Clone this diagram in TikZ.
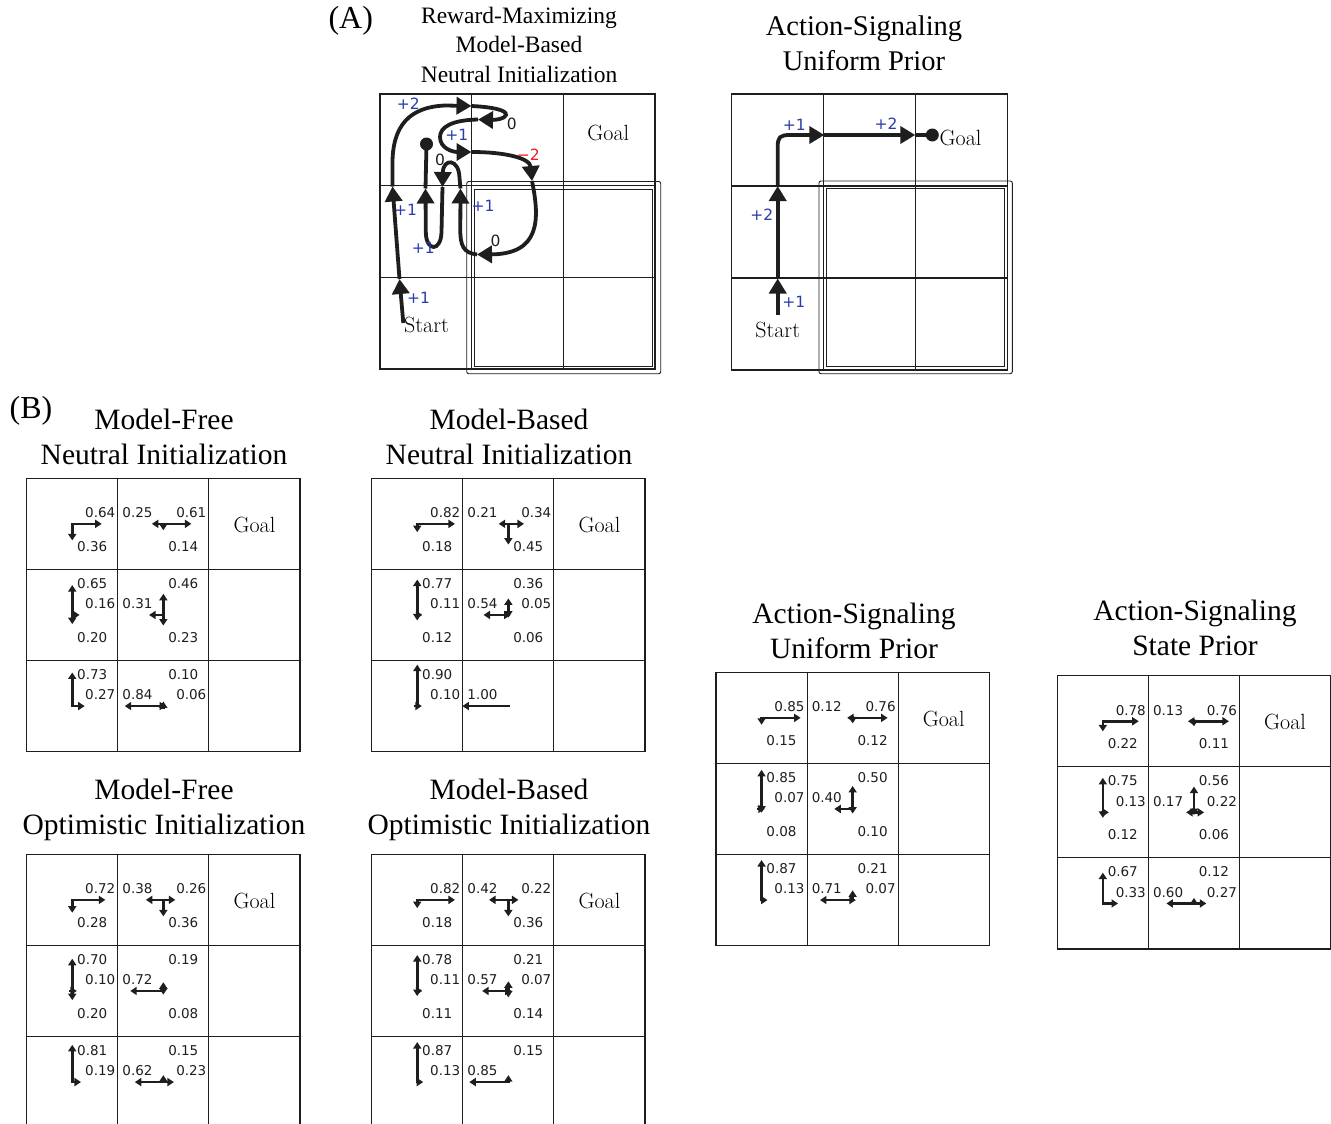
\documentclass[tikz,border=0pt]{standalone}
\usepackage{fontspec}
\usetikzlibrary{arrows.meta}
\newfontfamily\tms{Liberation Serif}
\newfontfamily\dvs{DejaVu Sans}
\definecolor{lblue}{RGB}{40,60,170}
\definecolor{lred}{RGB}{235,30,35}
\definecolor{ink}{RGB}{30,30,30}

\def\pcell{91.1}
\def\pscale{46}
\def\pdirU{\def\pdx{0}\def\pdy{-1}\def\plx{65.5}\def\ply{14}}
\def\pdirD{\def\pdx{0}\def\pdy{1}\def\plx{65.5}\def\ply{68}}
\def\pdirL{\def\pdx{-1}\def\pdy{0}\def\plx{19.7}\def\ply{34.5}}
\def\pdirR{\def\pdx{1}\def\pdy{0}\def\plx{73.5}\def\ply{34.5}}

\tikzset{
 gridline/.style={line width=1.1pt, draw=ink},
 regline/.style={line width=0.9pt, draw=ink},
 parrow/.style={line width=2.7pt, draw=ink, line cap=rect, -{Triangle[length=6.5pt,width=8pt]}},
 plabel/.style={font=\dvs\fontsize{13.5}{16}\selectfont, text=ink, inner sep=0pt},
 goaltext/.style={font=\fontsize{22}{26}\selectfont, inner sep=0pt},
 titletext/.style={font=\tms\fontsize{29.5}{35}\selectfont, anchor=base, inner sep=0pt},
 apath/.style={line width=3.8pt, draw=ink, -{Triangle[length=15pt,width=17pt]}},
 aline/.style={line width=3.8pt, draw=ink},
 rlabel/.style={font=\dvs\fontsize{15.5}{18}\selectfont, inner sep=0pt},
}

\newcommand{\gridlines}[3]{% x0, y0, cell
  \begin{scope}[shift={(#1,#2)}]
    \draw[gridline] (0,0) rectangle (3*#3,3*#3);
    \draw[gridline] (#3,0) -- (#3,3*#3) (2*#3,0) -- (2*#3,3*#3)
                    (0,#3) -- (3*#3,#3) (0,2*#3) -- (3*#3,2*#3);
  \end{scope}}

\newcommand{\bgrid}[3]{% name, x0, y0
  \gridlines{#2}{#3}{\pcell}
  \node[goaltext] (#1goal) at (#2+2.5*\pcell,#3+0.5*\pcell+1) {Goal};}

\newcommand{\pcellarr}[5]{% x0, y0, col, row, list
  \begin{scope}[shift={(#1+#3*\pcell,#2+#4*\pcell)}]
    \coordinate (pc) at (0.5*\pcell,0.5*\pcell);
    \foreach \pd/\pv in {#5}{%
      \csname pdir\pd\endcsname
      \pgfmathsetmacro\plen{\pv*\pscale}%
      \draw[parrow] (pc) -- ++(\pdx*\plen,\pdy*\plen);
      \node[plabel] (pl\pd) at (\plx,\ply) {\pv};
    }
  \end{scope}}

\begin{document}
\begin{tikzpicture}[x=1pt,y=-1pt]
\path[use as bounding box] (0,0) rectangle (1331,1124);
\clip (0,0) rectangle (1331,1124);

% ---------------- Panel A ----------------
\node[font=\tms\fontsize{32}{36}\selectfont, anchor=base, inner sep=0pt] (labA) at (350.8,28.5) {(A)};
\begin{scope}[every node/.style={font=\tms\fontsize{23.5}{28}\selectfont, anchor=base, inner sep=0pt}]
  \node (ta1) at (519,24) {Reward-Maximizing};
  \node (ta2) at (519,53) {Model-Based};
  \node (ta3) at (519,82) {Neutral Initialization};
\end{scope}
\begin{scope}[every node/.style={font=\tms\fontsize{28.5}{34}\selectfont, anchor=base, inner sep=0pt}]
  \node (tb1) at (864,35.5) {Action-Signaling};
  \node (tb2) at (864,70.5) {Uniform Prior};
\end{scope}

% left grid
\gridlines{380}{94}{91.67}
\draw[regline, rounded corners=2pt] (466.7,181.5) rectangle (660.7,373.7);
\draw[regline] (474.3,189.3) rectangle (652.7,366.7);
\node[goaltext] (agoal) at (608.3,133.3) {Goal};
\node[goaltext] (astart) at (426.5,325) {Start};

\coordinate (s0) at (403.3,323);
\coordinate (t1) at (399.5,279);
\coordinate (t2) at (392.5,186.5);
\coordinate (t3) at (471.5,106);
\coordinate (t4) at (478,119.5);
\coordinate (t5) at (471.5,152);
\coordinate (t6) at (532,181);
\coordinate (t7) at (477,254.5);
\coordinate (t8) at (460.5,188.5);
\coordinate (t9) at (442.5,187);
\coordinate (t10) at (425.5,188.5);
\coordinate (dotA) at (426.5,144);

\draw[apath] (s0) -- (t1);
\draw[apath] (t1) -- (t2);
\draw[apath] (t2) -- (392.5,165) .. controls (392,125) and (410,107) .. (445,105.5) -- (t3);
\draw[apath] (t3) .. controls (492,107) and (507,110) .. (506,115) .. controls (505,119) and (495,120) .. (t4);
\draw[apath] (t4) .. controls (452,120) and (440,127) .. (440,137) .. controls (440,148) and (452,152) .. (t5);
\draw[apath] (t5) .. controls (505,152) and (530,158) .. (t6);
\draw[apath] (t6) .. controls (540,220) and (540,254) .. (t7);
\draw[apath] (t7) .. controls (463,253) and (460,245) .. (460.3,228) -- (t8);
\draw[apath] (t8) -- (459.5,178) .. controls (459,158) and (443,158) .. (t9);
\draw[apath] (t9) -- (441.5,232) .. controls (441,252) and (426,252) .. (425.8,232) -- (t10);
\draw[aline] (t10) -- (dotA);
\fill[ink] (dotA) circle (6.5);

\node[rlabel, text=lblue] (r1) at (418.5,298) {+1};
\node[rlabel, text=lblue] (r2) at (405.5,210.3) {+1};
\node[rlabel, text=lblue] (r3) at (408.3,103.5) {+2};
\node[rlabel, text=ink] (r4) at (511.7,123.7) {0};
\node[rlabel, text=lblue] (r5) at (456.7,135.3) {+1};
\node[rlabel, text=lred] (r6) at (528.3,154.7) {−2};
\node[rlabel, text=ink] (r7) at (495.5,241.3) {0};
\node[rlabel, text=lblue] (r8) at (483,206.3) {+1};
\node[rlabel, text=ink] (r9) at (440,160.3) {0};
\node[rlabel, text=lblue] (r10) at (423.3,248) {+1};

% right grid
\gridlines{731.7}{94}{92}
\draw[regline, rounded corners=2pt] (819,181) rectangle (1012.3,373.7);
\draw[regline] (826.7,188.3) rectangle (1004.3,366);
\node[goaltext] (bstart) at (777.7,330) {Start};
\coordinate (rs) at (777.7,315);
\coordinate (rt1) at (777.7,278.5);
\coordinate (rt2) at (777.7,186);
\coordinate (rt3) at (824.3,135);
\coordinate (rt4) at (915.3,135);
\coordinate (rdot) at (932.3,135);
\draw[apath] (rs) -- (rt1);
\draw[apath] (rt1) -- (rt2);
\draw[apath] (rt2) -- (777.7,147) .. controls (777.7,137) and (780,135) .. (790,135) -- (rt3);
\draw[apath] (rt3) -- (rt4);
\draw[aline] (rt4) -- (rdot);
\fill[ink] (rdot) circle (6.5);
\node[goaltext, anchor=west] (bgoal) at (939.5,138) {Goal};
\node[rlabel, text=lblue] (q1) at (793.8,302.3) {+1};
\node[rlabel, text=lblue] (q2) at (761.7,214.3) {+2};
\node[rlabel, text=lblue] (q3) at (794.3,125) {+1};
\node[rlabel, text=lblue] (q4) at (886,123.3) {+2};

% ---------------- Panel B ----------------
\node[font=\tms\fontsize{32}{36}\selectfont, anchor=base, inner sep=0pt] (labB) at (31,418.5) {(B)};

\node[titletext] (mfn1) at (164,429) {Model-Free};
\node[titletext] (mfn2) at (164,464.5) {Neutral Initialization};
\node[titletext] (mbn1) at (509,429) {Model-Based};
\node[titletext] (mbn2) at (509,464.5) {Neutral Initialization};
\node[titletext] (mfo1) at (164,799) {Model-Free};
\node[titletext] (mfo2) at (164,834.5) {Optimistic Initialization};
\node[titletext] (mbo1) at (509,799) {Model-Based};
\node[titletext] (mbo2) at (509,834.5) {Optimistic Initialization};
\node[titletext] (asu1) at (854,623) {Action-Signaling};
\node[titletext] (asu2) at (854,658.5) {Uniform Prior};
\node[titletext] (ass1) at (1195,620) {Action-Signaling};
\node[titletext] (ass2) at (1195,655.5) {State Prior};

% MF neutral
\bgrid{mfn}{26.7}{478.3}
\pcellarr{26.7}{478.3}{0}{0}{R/0.64,D/0.36}
\pcellarr{26.7}{478.3}{1}{0}{L/0.25,R/0.61,D/0.14}
\pcellarr{26.7}{478.3}{0}{1}{U/0.65,R/0.16,D/0.20}
\pcellarr{26.7}{478.3}{1}{1}{U/0.46,L/0.31,D/0.23}
\pcellarr{26.7}{478.3}{0}{2}{U/0.73,R/0.27}
\pcellarr{26.7}{478.3}{1}{2}{U/0.10,L/0.84,R/0.06}

% MB neutral
\bgrid{mbn}{371.7}{478.3}
\pcellarr{371.7}{478.3}{0}{0}{R/0.82,D/0.18}
\pcellarr{371.7}{478.3}{1}{0}{L/0.21,R/0.34,D/0.45}
\pcellarr{371.7}{478.3}{0}{1}{U/0.77,R/0.11,D/0.12}
\pcellarr{371.7}{478.3}{1}{1}{U/0.36,L/0.54,R/0.05,D/0.06}
\pcellarr{371.7}{478.3}{0}{2}{U/0.90,R/0.10}
\pcellarr{371.7}{478.3}{1}{2}{L/1.00}

% MF optimistic
\bgrid{mfo}{26.7}{854.3}
\pcellarr{26.7}{854.3}{0}{0}{R/0.72,D/0.28}
\pcellarr{26.7}{854.3}{1}{0}{L/0.38,R/0.26,D/0.36}
\pcellarr{26.7}{854.3}{0}{1}{U/0.70,R/0.10,D/0.20}
\pcellarr{26.7}{854.3}{1}{1}{U/0.19,L/0.72,D/0.08}
\pcellarr{26.7}{854.3}{0}{2}{U/0.81,R/0.19}
\pcellarr{26.7}{854.3}{1}{2}{U/0.15,L/0.62,R/0.23}

% MB optimistic
\bgrid{mbo}{371.7}{854.3}
\pcellarr{371.7}{854.3}{0}{0}{R/0.82,D/0.18}
\pcellarr{371.7}{854.3}{1}{0}{L/0.42,R/0.22,D/0.36}
\pcellarr{371.7}{854.3}{0}{1}{U/0.78,R/0.11,D/0.11}
\pcellarr{371.7}{854.3}{1}{1}{U/0.21,L/0.57,R/0.07,D/0.14}
\pcellarr{371.7}{854.3}{0}{2}{U/0.87,R/0.13}
\pcellarr{371.7}{854.3}{1}{2}{U/0.15,L/0.85}

% AS uniform
\bgrid{asu}{716}{672.3}
\pcellarr{716}{672.3}{0}{0}{R/0.85,D/0.15}
\pcellarr{716}{672.3}{1}{0}{L/0.12,R/0.76,D/0.12}
\pcellarr{716}{672.3}{0}{1}{U/0.85,R/0.07,D/0.08}
\pcellarr{716}{672.3}{1}{1}{U/0.50,L/0.40,D/0.10}
\pcellarr{716}{672.3}{0}{2}{U/0.87,R/0.13}
\pcellarr{716}{672.3}{1}{2}{U/0.21,L/0.71,R/0.07}

% AS state
\bgrid{ass}{1057.3}{675.7}
\pcellarr{1057.3}{675.7}{0}{0}{R/0.78,D/0.22}
\pcellarr{1057.3}{675.7}{1}{0}{L/0.13,R/0.76,D/0.11}
\pcellarr{1057.3}{675.7}{0}{1}{U/0.75,R/0.13,D/0.12}
\pcellarr{1057.3}{675.7}{1}{1}{U/0.56,L/0.17,R/0.22,D/0.06}
\pcellarr{1057.3}{675.7}{0}{2}{U/0.67,R/0.33}
\pcellarr{1057.3}{675.7}{1}{2}{U/0.12,L/0.60,R/0.27}

\end{tikzpicture}
\end{document}
